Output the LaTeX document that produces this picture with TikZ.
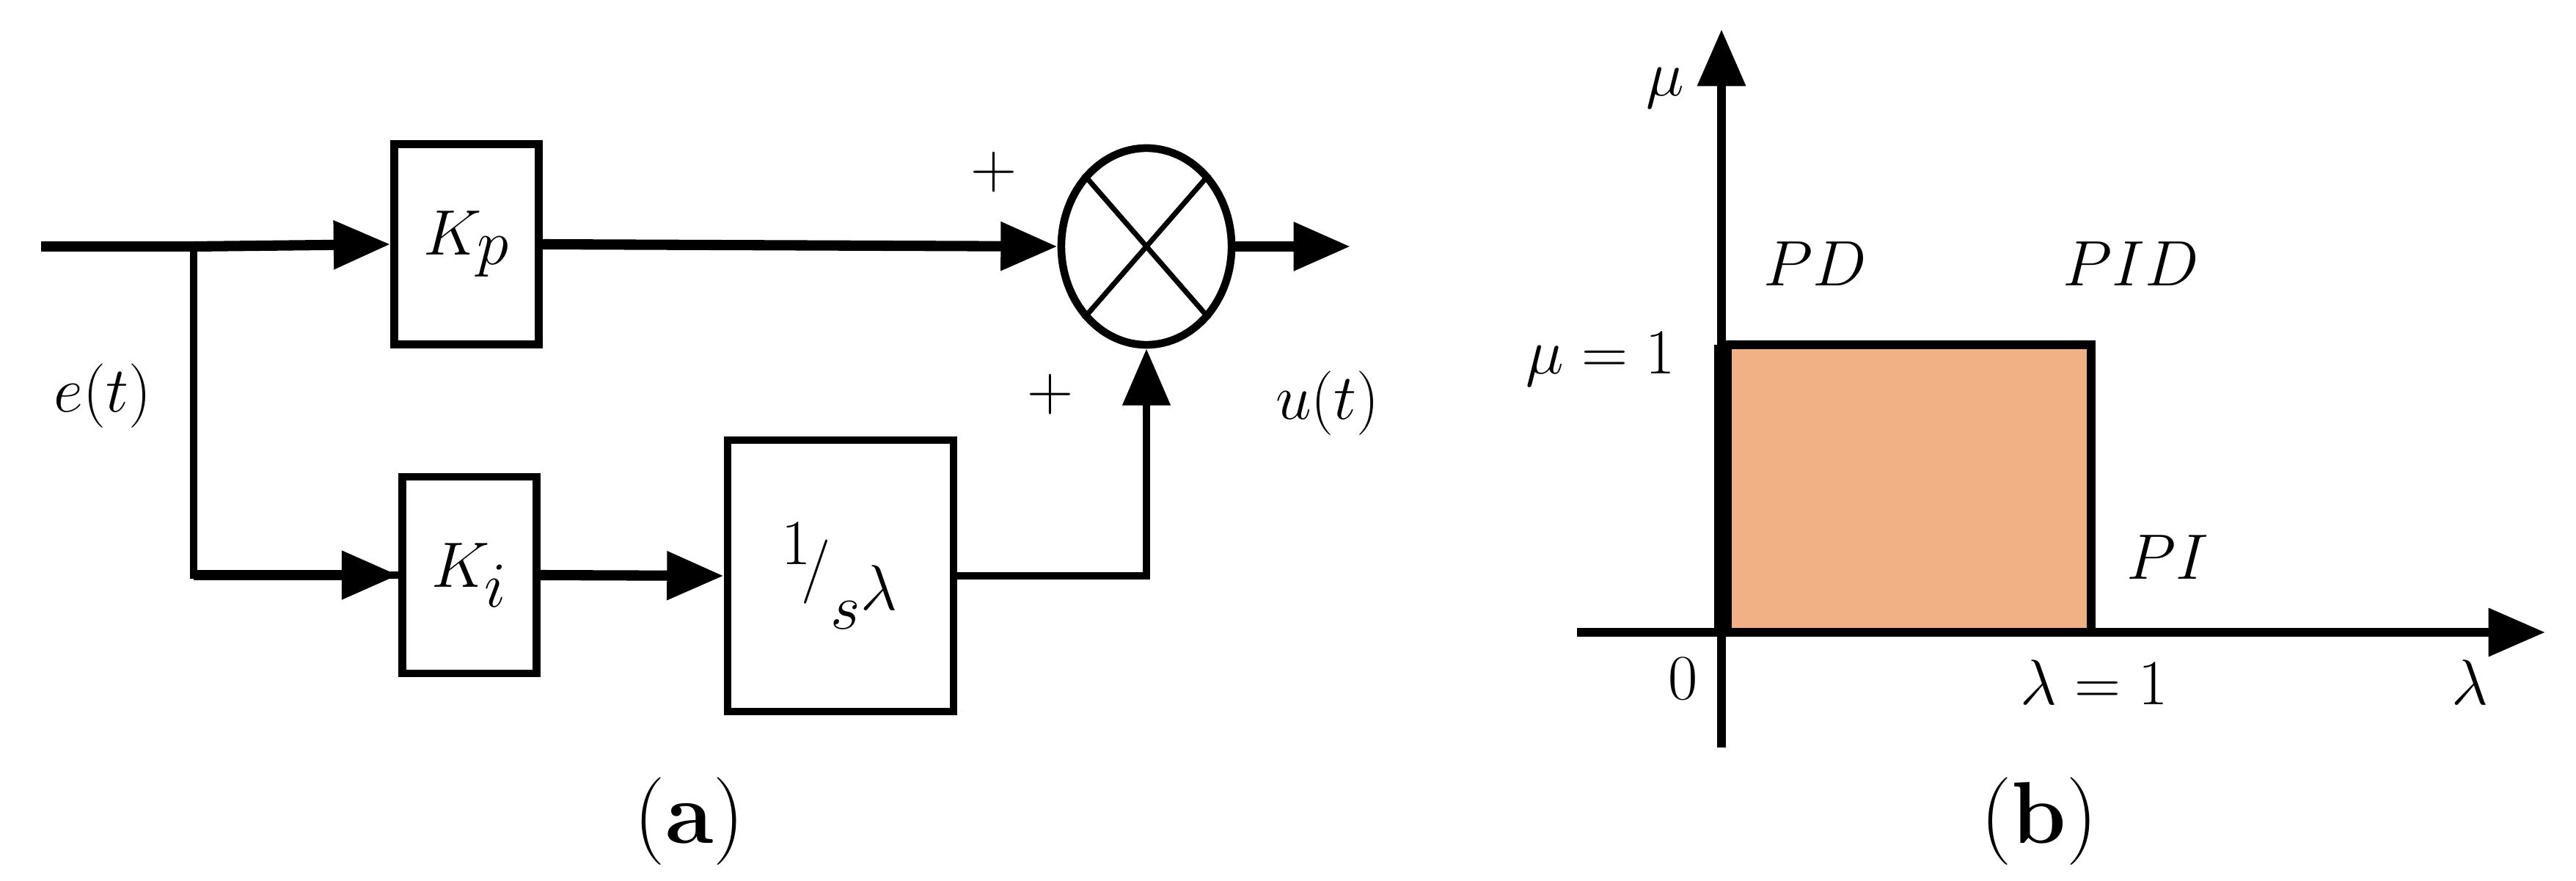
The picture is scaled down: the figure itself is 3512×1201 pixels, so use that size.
\documentclass[tikz,border=0pt]{standalone}
\usetikzlibrary{arrows.meta,positioning,shapes.geometric}
\definecolor{region}{HTML}{F2B085}
\tikzset{
  blk/.style={draw, line width=3pt, inner sep=0},
  sig/.style={line width=4pt, -{Triangle[length=22pt,width=18pt]}},
  axis/.style={line width=3.5pt, -{Triangle[length=22pt,width=18pt]}},
  big/.style={font=\fontsize{46}{50}\selectfont},
  lbl/.style={font=\fontsize{34}{40}\selectfont}
}
\begin{document}
\begin{tikzpicture}[x=0.01cm,y=-0.01cm]
\useasboundingbox (0,0) rectangle (3512,1201);
% block diagram (a)
\coordinate (in) at (56,336);
\coordinate (br) at (264,336);
\node[blk, minimum width=1.97cm, minimum height=2.73cm] (Kp) at (636,333) {};
\node[big] at (Kp) {$K_p$};
\node[blk, minimum width=1.83cm, minimum height=2.68cm] (Ki) at (640,784) {};
\node[big] at (Ki) {$K_i$};
\node[blk, minimum width=3.08cm, minimum height=3.70cm] (Is) at (1146,785) {};
\node[big] at (Is) {${}^{1}\!\big/_{s^{\lambda}}$};
\node[draw, ellipse, line width=3pt, minimum width=2.32cm, minimum height=2.68cm, inner sep=0] (sum) at (1563,336) {};
\draw[line width=2pt] (sum.north west) -- (sum.south east) (sum.north east) -- (sum.south west);
\coordinate (out) at (1841,336);
\draw[line width=4pt] (in) -- (br);
\draw[sig] (br) -- (Kp.west);
\draw[sig] (Kp.east) -- (sum.west);
\draw[line width=3pt] (br) |- (Ki.west);
\draw[sig] (br |- Ki.west) -- (Ki.west);
\draw[sig] (Ki.east) -- (Is.west);
\draw[sig, line width=3pt] (Is.east) -| (sum.south);
\draw[sig] (sum.east) -- (out);
\node[big] (pa) at (1355,235) {$+$};
\node[big] (pb) at (1432,538) {$+$};
\node[font=\fontsize{62}{70}\selectfont] (e) at (140,540) {$e(t)$};
\node[font=\fontsize{62}{70}\selectfont] (u) at (1810,550) {$u(t)$};
\node[lbl] (capa) at (940,1120) {(\textbf{a})};
% plane (b)
\coordinate (ytop) at (2347,40);
\coordinate (ybot) at (2347,1019);
\coordinate (xl) at (2150,862);
\coordinate (xr) at (3470,862);
\fill[region] (2347,470) rectangle (2851,862);
\draw[line width=3.5pt] (2347,470) -- (2851,470) -- (2851,862);
\draw[line width=7pt] (2349,470) -- (2349,862);
\draw[axis] (ybot) -- (ytop);
\draw[axis] (xl) -- (xr);
\node[lbl] (mu) at (2270,120) {$\mu$};
\node[lbl] (PD) at (2475,360) {$PD$};
\node[lbl] (PID) at (2905,360) {$PID$};
\node[lbl] (mu1) at (2182,490) {$\mu=1$};
\node[lbl] (PI) at (2955,760) {$PI$};
\node[lbl] (zero) at (2295,925) {$0$};
\node[lbl] (lam1) at (2855,930) {$\lambda=1$};
\node[lbl] (lam) at (3367,930) {$\lambda$};
\node[lbl] (capb) at (2780,1120) {(\textbf{b})};
\end{tikzpicture}
\end{document}
